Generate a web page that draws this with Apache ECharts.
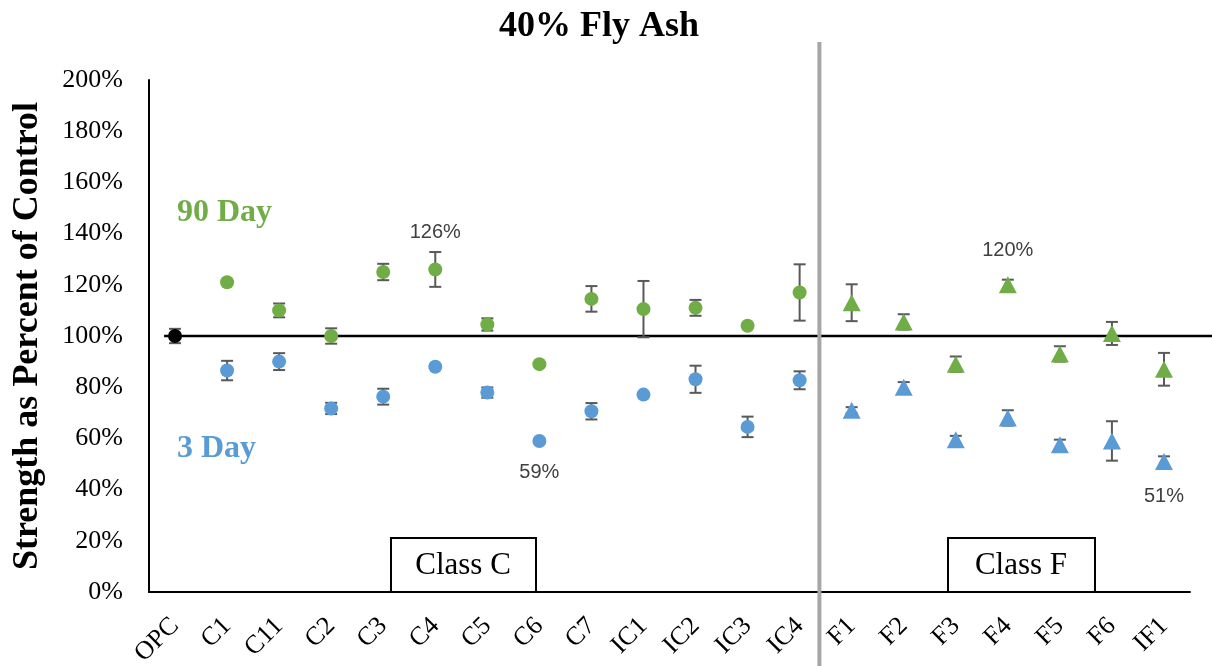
<!DOCTYPE html>
<html><head><meta charset="utf-8">
<script src="https://cdn.jsdelivr.net/npm/echarts@6/dist/echarts.min.js"></script>
<style>html,body{margin:0;padding:0;background:#fff}#c{width:1212px;height:666px}</style>
</head><body><div id="c"></div>
<script>
const categories = ['OPC','C1','C11','C2','C3','C4','C5','C6','C7','IC1','IC2','IC3','IC4','F1','F2','F3','F4','F5','F6','IF1'];
const controlValue = 100;
const controlErr = 2.8;
const day90 =    [null, 121, 110, 100, 125, 126, 104.5, 89, 114.5, 110.5, 111, 104, 117, 113, 105.5, 89, 120, 93, 101, 87];
const day90Err = [null, 0, 2.7, 3, 3.2, 6.8, 2.4, 0, 5, 11, 3.1, 0, 11, 7.2, 3, 3, 2, 3, 4.5, 6.4];
const day3 =     [null, 86.5, 90, 71.7, 76.3, 88, 77.9, 59, 70.6, 77.1, 83.1, 64.5, 82.7, 71, 80, 59.5, 68, 57.5, 59, 51];
const day3Err =  [null, 3.8, 3.3, 2.2, 3.1, 0, 2, 0, 3.2, 0, 5.3, 4, 3.5, 1.2, 2, 1.5, 3, 2, 7.7, 2];
const yTicks = [0, 20, 40, 60, 80, 100, 120, 140, 160, 180, 200];
const labelled90 = {C4: {position: 'top', distance: 20}, F4: {position: 'top', distance: 16}};
const labelled3 = {C6: {position: 'bottom', distance: 15}, IF1: {position: 'bottom', distance: 17}};

const GREEN = '#70AD47', BLUE = '#5B9BD5';
const SERIF = '"Liberation Serif", "Times New Roman", serif';
const isF = i => categories[i].indexOf('F') >= 0;

function points(vals, lab) {
  const out = [];
  vals.forEach((v, i) => {
    if (v == null) return;
    const item = {value: [i, v], symbol: isF(i) ? 'triangle' : 'circle', symbolSize: isF(i) ? [18, 17] : 14};
    const l = lab[categories[i]];
    if (l) item.label = {show: true, position: l.position, distance: l.distance,
      formatter: p => Math.round(p.value[1]) + '%',
      fontFamily: '"Liberation Sans", Arial, sans-serif', fontSize: 20, color: '#404040'};
    out.push(item);
  });
  return out;
}
function errs(vals, e) {
  const out = [];
  vals.forEach((v, i) => { if (v != null && e[i] > 0) out.push([i, v - e[i], v + e[i]]); });
  return out;
}
const errorData = errs(day90, day90Err).concat(errs(day3, day3Err)).concat([[0, controlValue - controlErr, controlValue + controlErr]]);

const chart = echarts.init(document.getElementById('c'), null, {renderer: 'canvas'});
const option = {
  animation: false,
  backgroundColor: '#fff',
  title: {text: '40% Fly Ash', left: 594, top: 4, textAlign: 'center',
    textStyle: {fontFamily: SERIF, fontWeight: 'bold', fontSize: 36, color: '#000'}},
  grid: {left: 149, right: 22, top: 80, bottom: 74, containLabel: false, outerBoundsMode: 'none'},
  xAxis: {type: 'category', data: categories, boundaryGap: true,
    axisLine: {lineStyle: {color: '#000', width: 2}}, axisTick: {show: false},
    axisLabel: {rotate: 45, interval: 0, margin: 30, fontFamily: SERIF, fontSize: 26, color: '#000'},
    splitLine: {show: false}},
  yAxis: {type: 'value', min: yTicks[0], max: yTicks[yTicks.length - 1], interval: yTicks[1] - yTicks[0],
    name: 'Strength as Percent of Control', nameLocation: 'middle', nameRotate: 90, nameGap: 103,
    nameTextStyle: {fontFamily: SERIF, fontWeight: 'bold', fontSize: 36, color: '#000'},
    axisLine: {show: true, lineStyle: {color: '#000', width: 2}}, axisTick: {show: false},
    axisLabel: {formatter: '{value}%', margin: 26, fontFamily: SERIF, fontSize: 26, color: '#000'},
    splitLine: {show: false}},
  series: [
    {type: 'custom', name: 'err', z: 2, data: errorData, encode: {x: 0, y: [1, 2]},
      renderItem: (params, api) => {
        const top = api.coord([api.value(0), api.value(2)]);
        const bot = api.coord([api.value(0), api.value(1)]);
        const w = 6, st = {stroke: '#595959', lineWidth: 2};
        return {type: 'group', children: [
          {type: 'line', shape: {x1: top[0], y1: top[1], x2: bot[0], y2: bot[1]}, style: st},
          {type: 'line', shape: {x1: top[0] - w, y1: top[1], x2: top[0] + w, y2: top[1]}, style: st},
          {type: 'line', shape: {x1: bot[0] - w, y1: bot[1], x2: bot[0] + w, y2: bot[1]}, style: st}
        ]};
      }},
    {type: 'scatter', name: '90 Day', z: 5, itemStyle: {color: GREEN, opacity: 1}, data: points(day90, labelled90)},
    {type: 'scatter', name: '3 Day', z: 5, itemStyle: {color: BLUE, opacity: 1}, data: points(day3, labelled3)},
    {type: 'scatter', name: 'OPC', z: 5, itemStyle: {color: '#000', opacity: 1}, symbolSize: 14, data: [[0, controlValue]]}
  ]
};
chart.setOption(option);

const y100 = chart.convertToPixel({yAxisIndex: 0}, controlValue);
const xOPC = chart.convertToPixel({xAxisIndex: 0}, 0);
const band = chart.convertToPixel({xAxisIndex: 0}, 1) - xOPC;
const xSep = chart.convertToPixel({xAxisIndex: 0}, 12) + 0.38 * band;
const yBase = chart.convertToPixel({yAxisIndex: 0}, 0);
const boxStyle = {fill: '#fff', stroke: '#000', lineWidth: 2};
const boxText = {fontFamily: SERIF, fontSize: 31, fill: '#000', textAlign: 'center', textVerticalAlign: 'middle'};
chart.setOption({graphic: [
  {type: 'line', z: 1, shape: {x1: xOPC - 0.21 * band, y1: y100, x2: 1212, y2: y100}, style: {stroke: '#000', lineWidth: 2.5}},
  {type: 'line', z: 10, shape: {x1: xSep, y1: 42, x2: xSep, y2: 666}, style: {stroke: '#A6A6A6', lineWidth: 4}},
  {type: 'rect', z: 11, shape: {x: 391, y: 538, width: 145, height: yBase - 538}, style: boxStyle},
  {type: 'text', z: 12, x: 463, y: 566, style: Object.assign({text: 'Class C'}, boxText)},
  {type: 'rect', z: 11, shape: {x: 948, y: 538, width: 147, height: yBase - 538}, style: boxStyle},
  {type: 'text', z: 12, x: 1021, y: 566, style: Object.assign({text: 'Class F'}, boxText)},
  {type: 'text', z: 12, x: 177, y: 213, style: {text: '90 Day', fontFamily: SERIF, fontWeight: 'bold', fontSize: 32, fill: GREEN, textVerticalAlign: 'middle'}},
  {type: 'text', z: 12, x: 177, y: 449, style: {text: '3 Day', fontFamily: SERIF, fontWeight: 'bold', fontSize: 32, fill: BLUE, textVerticalAlign: 'middle'}}
]});
</script>
</body></html>
